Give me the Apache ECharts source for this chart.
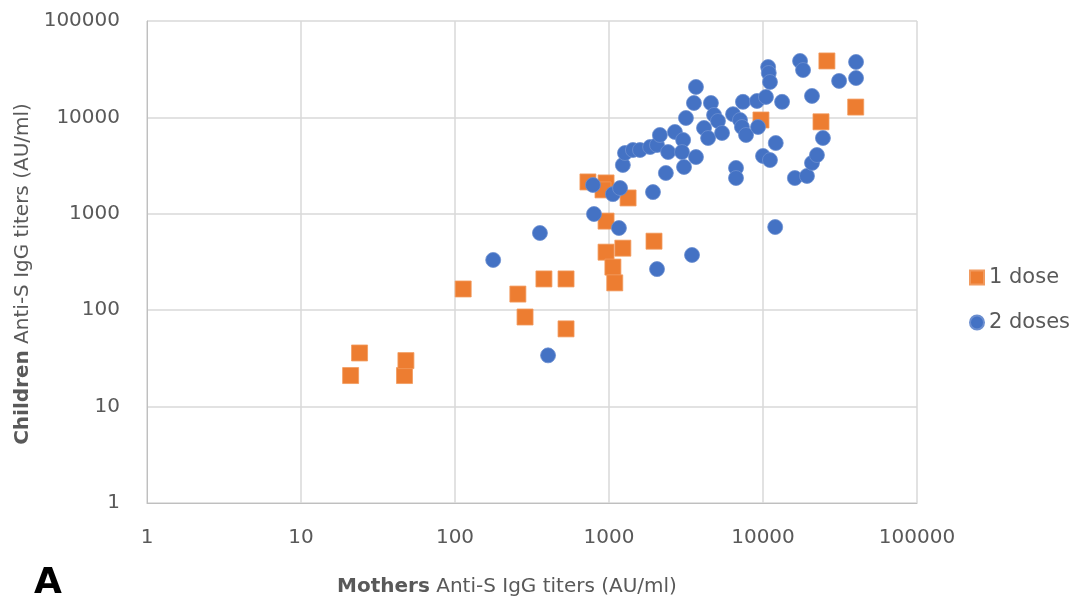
<!DOCTYPE html>
<html>
<head>
<meta charset="utf-8">
<script src="https://cdn.jsdelivr.net/npm/echarts@6/dist/echarts.min.js"></script>
<style>
html,body{margin:0;padding:0;background:#fff;}
#c{width:1087px;height:608px;}
</style>
</head>
<body>
<div id="c"></div>
<script>
// Data
const dose1X = [21, 24, 47, 48, 113, 256, 285, 378, 526, 526, 730, 957, 914, 1330, 957, 957, 1230, 1060, 1090, 1960, 9700, 26000, 23800, 40000];
const dose1Y = [21, 36, 21, 30, 166, 147, 85, 211, 211, 64, 2140, 2090, 1770, 1460, 840, 400, 440, 280, 192, 520, 9400, 38500, 9000, 12800];

const dose2X = [177, 356, 402, 787, 799, 1060, 1180, 1160, 1930, 2050, 3460, 1230, 1270, 1430, 1590, 1850, 2050, 2140, 2680, 3030, 2420, 2980, 2340, 3070, 3670, 3160, 3560, 3670, 4590, 4810, 5100, 4140, 4400, 5420, 6390, 7410, 7090, 7300, 7760, 9280, 9140, 10450, 10800, 10900, 11100, 13300, 12100, 10000, 11100, 6680, 6680, 16100, 19300, 20800, 22400, 24500, 20800, 17400, 18200, 31200, 40200, 40200, 12000];
const dose2Y = [332, 632, 34, 1990, 995, 1600, 1850, 712, 1680, 267, 374, 3210, 4270, 4590, 4590, 4930, 5170, 6570, 7060, 5830, 4370, 4370, 2650, 3060, 3880, 9860, 14100, 20700, 14100, 10600, 9180, 7770, 6110, 6890, 10800, 14500, 9400, 7950, 6570, 7950, 14800, 16300, 33300, 28900, 23300, 14500, 5420, 3980, 3610, 2990, 2350, 2350, 2470, 3370, 4070, 6110, 16700, 38500, 31000, 23900, 37600, 25600, 729];

const tickLabels = ['1', '10', '100', '1000', '10000', '100000'];
const seriesNames = ['1 dose', '2 doses'];
const xTitleBold = 'Mothers';
const xTitleRest = ' Anti-S IgG titers (AU/ml)';
const yTitleBold = 'Children';
const yTitleRest = ' Anti-S IgG titers (AU/ml)';
const panelLabel = 'A';

const pairs = (xs, ys) => xs.map((x, i) => [x, ys[i]]);
const fmt = v => tickLabels[Math.round(Math.log10(v))] || '';

const FONT = 'DejaVu Sans';
const TXT = '#595959';

const axisCommon = {
  type: 'log',
  logBase: 10,
  min: 1,
  max: 100000,
  axisLine: { show: true, lineStyle: { color: '#bfbfbf', width: 1 } },
  axisTick: { show: false },
  splitLine: { show: true, lineStyle: { color: '#d9d9d9', width: 1.5 } },
  minorTick: { show: false },
  minorSplitLine: { show: false },
  axisLabel: { color: TXT, fontFamily: FONT, fontSize: 20, formatter: fmt },
  nameLocation: 'middle'
};

const titleRich = {
  b: { fontFamily: FONT, fontSize: 20, fontWeight: 'bold', color: TXT },
  r: { fontFamily: FONT, fontSize: 20, color: TXT }
};

const chart = echarts.init(document.getElementById('c'), null, { renderer: 'canvas' });
chart.setOption({
  animation: false,
  backgroundColor: '#ffffff',
  textStyle: { fontFamily: FONT },
  grid: { left: 147, right: 170, top: 21, bottom: 105, containLabel: false },
  xAxis: Object.assign({}, axisCommon, {
    axisLabel: Object.assign({}, axisCommon.axisLabel, { margin: 25 }),
    name: '{b|' + xTitleBold + '}{r|' + xTitleRest + '}',
    nameGap: 74,
    nameTextStyle: { rich: titleRich, padding: [0, 50, 0, 0] }
  }),
  yAxis: Object.assign({}, axisCommon, {
    axisLabel: Object.assign({}, axisCommon.axisLabel, { margin: 27 }),
    name: '{b|' + yTitleBold + '}{r|' + yTitleRest + '}',
    nameGap: 104,
    nameTextStyle: { rich: titleRich, padding: [0, 24, 0, 0] }
  }),
  legend: {
    orient: 'vertical',
    left: 964,
    top: 262,
    itemGap: 24,
    itemWidth: 14,
    itemHeight: 14,
    textStyle: { color: TXT, fontFamily: FONT, fontSize: 21 },
    data: [
      { name: seriesNames[0], icon: 'rect' },
      { name: seriesNames[1], icon: 'circle' }
    ]
  },
  graphic: [{
    type: 'text',
    left: 34,
    top: 566,
    style: { text: panelLabel, fontFamily: FONT, fontSize: 36, fontWeight: 'bold', fill: '#000' }
  }],
  series: [
    {
      name: seriesNames[0],
      type: 'scatter',
      symbol: 'rect',
      symbolSize: 16,
      itemStyle: { color: '#ED7D31', opacity: 1, borderColor: '#F19A5E', borderWidth: 0.8 },
      data: pairs(dose1X, dose1Y)
    },
    {
      name: seriesNames[1],
      type: 'scatter',
      symbol: 'circle',
      symbolSize: 15,
      itemStyle: { color: '#4472C4', opacity: 1, borderColor: '#6C8FD0', borderWidth: 0.8 },
      data: pairs(dose2X, dose2Y)
    }
  ]
});
</script>
</body>
</html>
